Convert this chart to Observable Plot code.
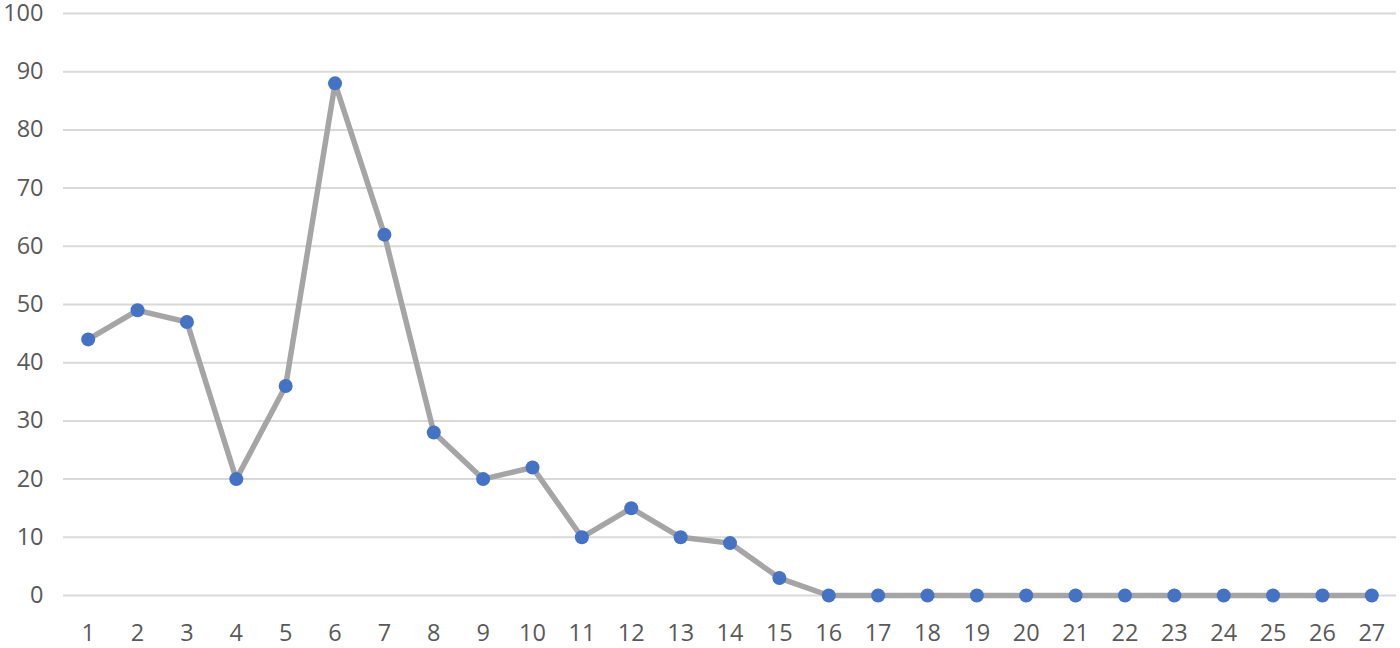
<!DOCTYPE html>
<html><head><meta charset="utf-8">
<script src="https://cdn.jsdelivr.net/npm/d3@7"></script>
<script src="https://cdn.jsdelivr.net/npm/@observablehq/plot@0.6"></script>
<style>body{margin:0;background:#fff;}</style>
</head><body><div id="chart"></div>
<script>
const categories = [1,2,3,4,5,6,7,8,9,10,11,12,13,14,15,16,17,18,19,20,21,22,23,24,25,26,27];
const values = [44,49,47,20,36,88,62,28,20,22,10,15,10,9,3,0,0,0,0,0,0,0,0,0,0,0,0];
const yTicks = [0,10,20,30,40,50,60,70,80,90,100];
const data = categories.map((c,i)=>({x:c, y:values[i]}));
const chart = Plot.plot({
  width:1400, height:648,
  marginLeft:63, marginRight:4, marginTop:13, marginBottom:53,
  style:{fontFamily:"'Open Sans', sans-serif", fontSize:"23.5px", color:"#595959", background:"#fff", overflow:"visible"},
  x:{type:"point", domain:categories, padding:0.5, round:false, label:null},
  y:{domain:[0,100], label:null},
  marks:[
    Plot.ruleY(yTicks,{stroke:"#d9d9d9", strokeWidth:2}),
    Plot.axisY({ticks:yTicks, tickSize:0, tickPadding:20, label:null, fill:"#595959"}),
    Plot.axisX({tickSize:0, tickPadding:29, label:null, fill:"#595959"}),
    Plot.line(data,{x:"x", y:"y", stroke:"#a5a5a5", strokeWidth:5.5}),
    Plot.dot(data,{x:"x", y:"y", fill:"#4472c4", r:7, stroke:"none"})
  ]
});
document.getElementById("chart").appendChild(chart);
</script></body></html>
